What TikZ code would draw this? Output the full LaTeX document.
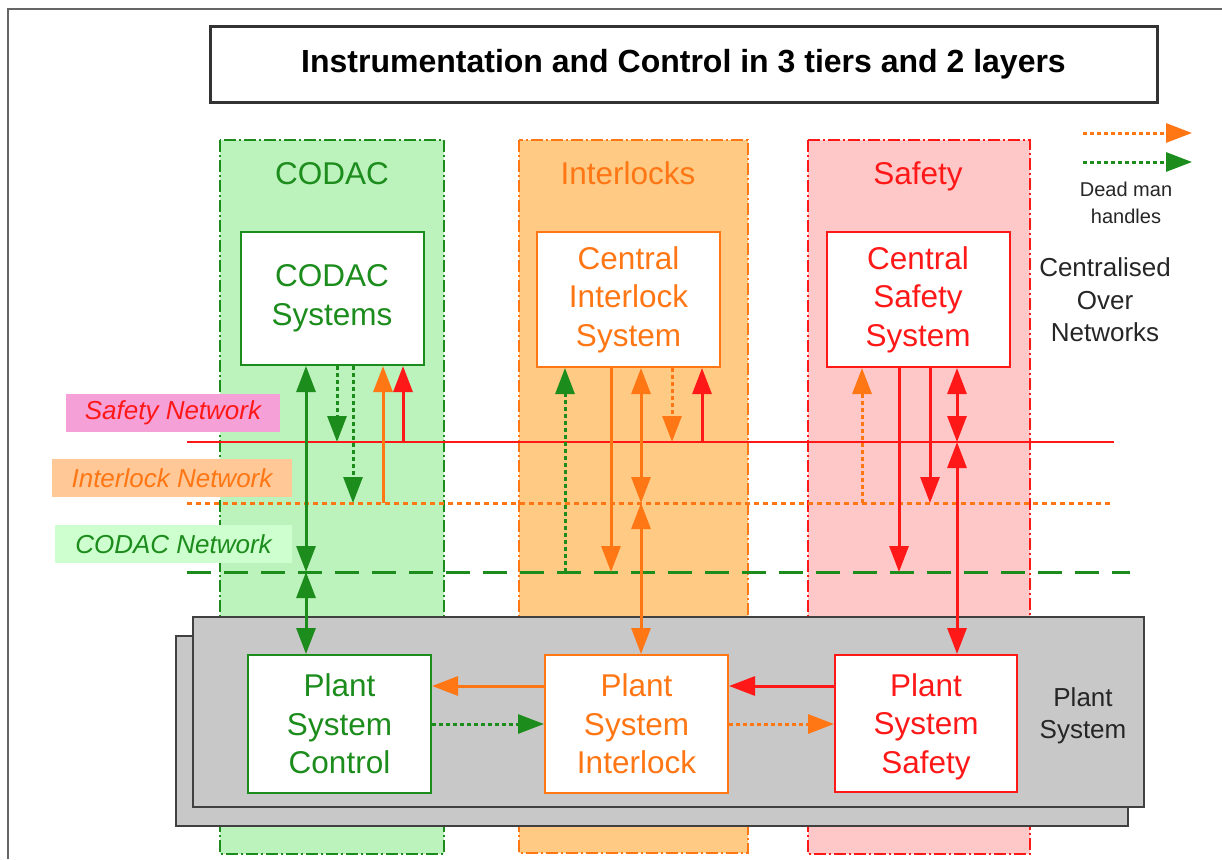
\documentclass[tikz,border=0pt]{standalone}
\usepackage{fontspec}
\setmainfont{Liberation Sans}
\usetikzlibrary{arrows.meta}
\definecolor{cgreen}{RGB}{28,140,28}
\definecolor{corange}{RGB}{255,118,20}
\definecolor{cred}{RGB}{255,24,24}
\definecolor{gfill}{RGB}{188,242,188}
\definecolor{ofill}{RGB}{255,202,132}
\definecolor{rfill}{RGB}{255,200,200}
\definecolor{plantgray}{RGB}{200,200,200}
\definecolor{pinklabel}{RGB}{245,160,215}
\definecolor{orangelabel}{RGB}{255,200,150}
\definecolor{greenlabel}{RGB}{206,255,206}
\begin{document}
\begin{tikzpicture}[x=1pt,y=-1pt,
  >={Triangle[length=26pt,width=19pt]},
  ln/.style={line width=3pt},
  dots/.style={line width=3pt, dash pattern=on 4pt off 3pt},
  sysbox/.style={draw, fill=white, line width=2pt, minimum width=183pt, minimum height=136pt, inner sep=0pt, align=center, font=\fontsize{31.5}{38.5}\selectfont},
  collabel/.style={font=\fontsize{31.5}{38}\selectfont, text height=23pt, text depth=7pt, inner sep=0pt},
  netlabel/.style={minimum height=38pt, inner sep=0pt, font=\fontsize{26}{30}\selectfont\itshape},
  colbox/.style={line width=2pt, dash pattern=on 12pt off 3pt on 2pt off 3pt},
  info/.style={align=center, text=black!85}
]
\useasboundingbox (0,0) rectangle (1222,859);
\fill[white] (0,0) rectangle (1222,859);
% outer frame
\draw[black!60, line width=2pt] (8,859) -- (8,9) -- (1222,9);
% title
\node[draw=black!80, line width=3pt, minimum width=947pt, minimum height=75pt, inner sep=0pt,
  font=\fontsize{32}{36}\selectfont\bfseries] (title) at (683.5,64.5)
  {Instrumentation and Control in 3 tiers and 2 layers};
% columns
\draw[colbox, draw=cgreen, fill=gfill] (220,140) rectangle (444,854);
\draw[colbox, draw=corange, fill=ofill] (519,140) rectangle (748,853);
\draw[colbox, draw=cred, fill=rfill] (808,140) rectangle (1030,854);
\node[collabel, text=cgreen] (lcodac) at (332,176) {CODAC};
\node[collabel, text=corange] (linter) at (628,176) {Interlocks};
\node[collabel, text=cred] (lsafe) at (918,176) {Safety};
% plant system
\draw[fill=plantgray, draw=black!75, line width=2pt] (176,636) rectangle (1128,826);
\draw[fill=plantgray, draw=black!75, line width=2pt] (193,617) rectangle (1144,807);
\node[info, font=\fontsize{26}{32}\selectfont] (plantlbl) at (1083,716) {Plant\\System};
% network labels
\node[netlabel, fill=pinklabel, minimum width=214pt, text=cred] (snlbl) at (173,412.5) {Safety Network};
\node[netlabel, fill=orangelabel, minimum width=240pt, text=corange] (inlbl) at (172,478) {Interlock Network};
\node[netlabel, fill=greenlabel, minimum width=237pt, text=cgreen] (cnlbl) at (173.5,544) {CODAC Network};
% networks
\coordinate (snL) at (187,442); \coordinate (snR) at (1114,442);
\coordinate (inL) at (187,503); \coordinate (inR) at (1110,503);
\coordinate (cnL) at (187,572); \coordinate (cnR) at (1130,572);
\draw[cred, line width=2pt] (snL) -- (snR);
\draw[corange, line width=3pt, dash pattern=on 5pt off 4pt] (inL) -- (inR);
\draw[cgreen, line width=3pt, dash pattern=on 24pt off 13pt] (cnL) -- (cnR);
% system boxes
\node[sysbox, draw=cgreen, text=cgreen, minimum height=133pt] (codacsys) at (332,298.5) {CODAC\\Systems};
\node[sysbox, draw=corange, text=corange, minimum height=135pt] (cis) at (628.5,299.5) {Central\\Interlock\\System};
\node[sysbox, draw=cred, text=cred, minimum height=135pt] (css) at (918,299.5) {Central\\Safety\\System};
\node[sysbox, draw=cgreen, text=cgreen, minimum height=138pt] (psc) at (339.5,724) {Plant\\System\\Control};
\node[sysbox, draw=corange, text=corange, minimum height=138pt] (psi) at (636.5,724) {Plant\\System\\Interlock};
\node[sysbox, draw=cred, text=cred, minimum width=182pt, minimum height=137pt] (pss) at (926,723.5) {Plant\\System\\\raisebox{0pt}[\height][0pt]{Safety}};
% network tap points
\coordinate (g1) at (306,572);
\coordinate (g2) at (337,442);
\coordinate (g3) at (353,503);
\coordinate (o1) at (383,503);
\coordinate (r1) at (403,442);
\coordinate (g4) at (565,572);
\coordinate (o2) at (611,572);
\coordinate (o3) at (641,503);
\coordinate (o4) at (672,442);
\coordinate (r2) at (702,442);
\coordinate (o5) at (862,503);
\coordinate (r3) at (899,572);
\coordinate (r4) at (930,503);
\coordinate (r5) at (957,442);
% CODAC column arrows
\draw[ln, cgreen, <->] (codacsys.south -| g1) -- (g1);
\draw[ln, cgreen, <->] (g1) -- (g1 |- psc.north);
\draw[dots, cgreen, ->] (codacsys.south -| g2) -- (g2);
\draw[dots, cgreen, ->] (codacsys.south -| g3) -- (g3);
\draw[ln, corange, ->] (o1) -- (codacsys.south -| o1);
\draw[ln, cred, ->] (r1) -- (codacsys.south -| r1);
% Interlock column arrows
\draw[dots, cgreen, ->] (g4) -- (cis.south -| g4);
\draw[ln, corange, ->] (cis.south -| o2) -- (o2);
\draw[ln, corange, <->] (cis.south -| o3) -- (o3);
\draw[ln, corange, <->] (o3) -- (o3 |- psi.north);
\draw[dots, corange, ->] (cis.south -| o4) -- (o4);
\draw[ln, cred, ->] (r2) -- (cis.south -| r2);
% Safety column arrows
\draw[dots, corange, ->] (o5) -- (css.south -| o5);
\draw[ln, cred, ->] (css.south -| r3) -- (r3);
\draw[ln, cred, ->] (css.south -| r4) -- (r4);
\draw[ln, cred, <->] (css.south -| r5) -- (r5);
\draw[ln, cred, <->] (r5) -- (r5 |- pss.north);
% plant level arrows
\coordinate (hA) at (0,686);
\coordinate (hB) at (0,724);
\draw[ln, corange, ->] (psi.west |- hA) -- (psc.east |- hA);
\draw[dots, cgreen, ->] (psc.east |- hB) -- (psi.west |- hB);
\draw[ln, cred, ->] (pss.west |- hA) -- (psi.east |- hA);
\draw[dots, corange, ->] (psi.east |- hB) -- (pss.west |- hB);
% legend
\coordinate (lo1) at (1083,133); \coordinate (lo2) at (1192,133);
\coordinate (lg1) at (1083,162); \coordinate (lg2) at (1192,162);
\draw[dots, corange, ->] (lo1) -- (lo2);
\draw[dots, cgreen, ->] (lg1) -- (lg2);
\node[info, font=\fontsize{20}{27}\selectfont] (dmh) at (1126,203) {Dead man\\handles};
\node[info, font=\fontsize{26}{32.5}\selectfont] (con) at (1105,300) {Centralised\\Over\\Networks};
\end{tikzpicture}
\end{document}
